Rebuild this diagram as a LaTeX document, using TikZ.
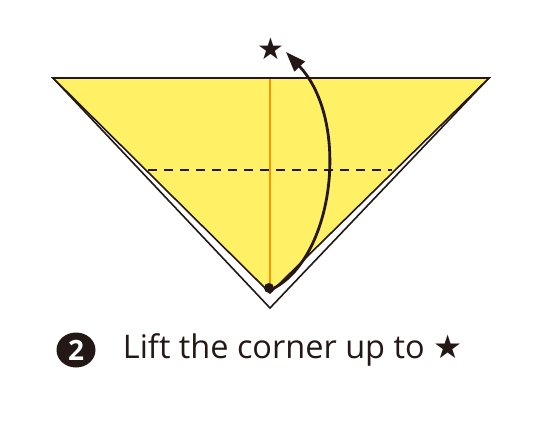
\documentclass[tikz,border=0pt]{standalone}
\usepackage{fontspec}
\setmainfont{Open Sans}
\newfontfamily\symfont{DejaVu Sans}
\usetikzlibrary{arrows.meta,positioning,shapes.geometric}
\definecolor{paperyellow}{RGB}{255,240,102}
\definecolor{foldorange}{RGB}{243,152,0}
\definecolor{inkblack}{RGB}{35,24,21}

\begin{document}
\begin{tikzpicture}[x=1pt,y=-1pt]
\useasboundingbox (0,0) rectangle (535,441);
\coordinate (tl) at (53,78);
\coordinate (tr) at (489,78);
\coordinate (back) at (270,308);
\coordinate (tip) at (270,293);
\coordinate (fl) at (148,170);
\coordinate (fr) at (392,170);
\draw[inkblack,line width=1.6pt,fill=white] (tl) -- (tr) -- (back) -- cycle;
\draw[inkblack,line width=1.6pt,fill=paperyellow,line join=miter] (tl) -- (tr) -- (tip) -- cycle;
\draw[foldorange,line width=1.3pt] (270,79) -- (270,289);
\draw[inkblack,line width=1.2pt,dash pattern=on 9pt off 7pt] (fl) -- (fr);
\node[circle,fill=inkblack,inner sep=0pt,minimum size=10pt] (dot) at (269,288) {};
\node[inkblack,font=\symfont\fontsize{30}{30}\selectfont,inner sep=0pt] (star) at (271,49) {★};
\draw[inkblack,line width=2.8pt,-{Triangle[length=20pt,width=14pt]}] (dot.east) .. controls (335,255) and (350,120) .. (286,52);
\node[ellipse,fill=inkblack,minimum width=39pt,minimum height=35pt,inner sep=0pt,text=white,font=\bfseries\fontsize{28}{28}\selectfont] (num) at (76,350) {2};
\node[anchor=west,inkblack,font=\fontsize{32.5}{32.5}\selectfont,inner sep=0pt,right=27pt of num] (lbl) {Lift the corner up to {\symfont★}};
\end{tikzpicture}
\end{document}
